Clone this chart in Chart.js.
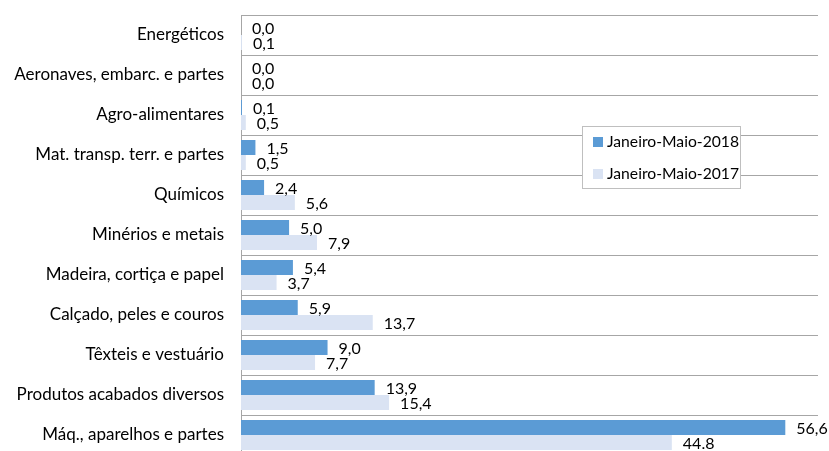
<!DOCTYPE html>
<html>
<head>
<meta charset="utf-8">
<script src="https://cdn.jsdelivr.net/npm/chart.js@4"></script>
<style>
  html, body { margin: 0; padding: 0; background: #fff; overflow: hidden; }
  canvas { display: block; }
</style>
</head>
<body>
<canvas id="chart" width="829" height="460"></canvas>
<script>
const categories = [
  "Energéticos",
  "Aeronaves, embarc. e partes",
  "Agro-alimentares",
  "Mat. transp. terr. e partes",
  "Químicos",
  "Minérios e metais",
  "Madeira, cortiça e papel",
  "Calçado, peles e couros",
  "Têxteis e vestuário",
  "Produtos acabados diversos",
  "Máq., aparelhos e partes"
];
const values2018 = [0.0, 0.0, 0.1, 1.5, 2.4, 5.0, 5.4, 5.9, 9.0, 13.9, 56.6];
const values2017 = [0.1, 0.0, 0.5, 0.5, 5.6, 7.9, 3.7, 13.7, 7.7, 15.4, 44.8];
const labels2018 = ["0,0", "0,0", "0,1", "1,5", "2,4", "5,0", "5,4", "5,9", "9,0", "13,9", "56,6"];
const labels2017 = ["0,1", "0,0", "0,5", "0,5", "5,6", "7,9", "3,7", "13,7", "7,7", "15,4", "44.8"];
const seriesNames = ["Janeiro-Maio-2018", "Janeiro-Maio-2017"];

const FONT = "Lato, 'Liberation Sans', sans-serif";

// value labels next to each bar
const barLabels = {
  id: "barLabels",
  afterDatasetsDraw(chart) {
    const ctx = chart.ctx;
    const texts = [labels2018, labels2017];
    ctx.save();
    ctx.font = "16px " + FONT;
    ctx.fillStyle = "#000";
    ctx.textBaseline = "middle";
    ctx.textAlign = "left";
    chart.data.datasets.forEach((ds, i) => {
      chart.getDatasetMeta(i).data.forEach((bar, j) => {
        ctx.fillText(texts[i][j], bar.x + 11, bar.y + 1);
      });
    });
    ctx.restore();
  }
};

// boxed legend sitting over the plot
const boxLegend = {
  id: "boxLegend",
  afterDraw(chart) {
    const ctx = chart.ctx;
    const x = 582, y = 126, w = 159, h = 63;
    ctx.save();
    ctx.fillStyle = "#fff";
    ctx.fillRect(x, y, w, h);
    ctx.strokeStyle = "#BFBFBF";
    ctx.lineWidth = 1;
    ctx.strokeRect(x + 0.5, y + 0.5, w - 1, h - 1);
    ctx.font = "15.7px " + FONT;
    ctx.textBaseline = "middle";
    chart.data.datasets.forEach((ds, i) => {
      const cy = y + 16 + i * 32;
      ctx.fillStyle = ds.backgroundColor;
      ctx.fillRect(x + 11, cy - 5, 10, 10);
      ctx.fillStyle = "#000";
      ctx.fillText(seriesNames[i], x + 25, cy);
    });
    ctx.restore();
  }
};

const chart = new Chart(document.getElementById("chart"), {
  type: "bar",
  data: {
    labels: categories,
    datasets: [
      { label: seriesNames[0], data: values2018, backgroundColor: "#5B9BD5",
        categoryPercentage: 0.75, barPercentage: 1 },
      { label: seriesNames[1], data: values2017, backgroundColor: "#DAE3F3",
        categoryPercentage: 0.75, barPercentage: 1 }
    ]
  },
  options: {
    responsive: false,
    indexAxis: "y",
    animation: false,
    layout: { padding: { top: 15, right: 11, bottom: 5, left: 0 } },
    plugins: { legend: { display: false }, tooltip: { enabled: false } },
    scales: {
      x: {
        min: 0, max: 60,
        display: false
      },
      y: {
        afterFit(scale) {
          scale.width = 241;
          scale.paddingTop = 0;
          scale.paddingBottom = 0;
        },
        grid: { offset: true, color: "#A6A6A6", lineWidth: 1, drawTicks: false },
        border: { display: true, color: "#A6A6A6" },
        ticks: { color: "#000", padding: 17, font: { family: FONT, size: 17 } }
      }
    }
  },
  plugins: [barLabels, boxLegend]
});
</script>
</body>
</html>
